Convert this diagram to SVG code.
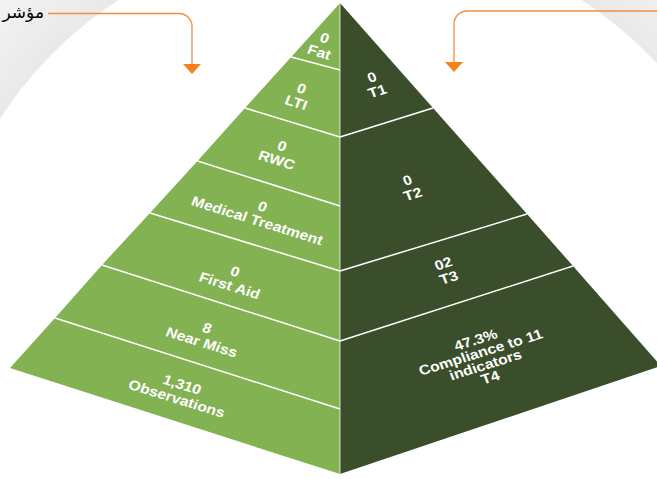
<svg xmlns="http://www.w3.org/2000/svg" width="657" height="479" viewBox="0 0 657 479">
<defs>
<radialGradient id="bg" gradientUnits="userSpaceOnUse" cx="350" cy="320" r="520" gradientTransform="translate(350 320) scale(1.055 1) translate(-350 -320)">
<stop offset="0" stop-color="#ffffff"/>
<stop offset="0.745" stop-color="#ffffff"/>
<stop offset="0.747" stop-color="#e9e9e9"/>
<stop offset="1" stop-color="#fbfbfb"/>
</radialGradient>
<style>
.lf{fill:#83B253}
.rf{fill:#3A4E2B}
.div{stroke:#ffffff;stroke-width:1.5;fill:none}
.lbl{font-family:"Liberation Sans",Arial,sans-serif;font-weight:bold;font-size:13px;fill:#ffffff;text-anchor:middle}
.conn{stroke:#F28D40;stroke-width:1.3;fill:none}
.head{fill:#F5821F}
</style>
</defs>
<rect x="0" y="0" width="657" height="479" fill="url(#bg)"/>

<g id="tier-fat">
<polygon class="lf" points="340,3 291.2,57 340,70"/>
<g transform="matrix(1.15 0.357 -0.39 1 322 45)"><text class="lbl" y="-2.4">0</text><text class="lbl" y="11.6">Fat</text></g>
</g>
<g id="tier-lti">
<polygon class="lf" points="291.2,57 245,108 340,137 340,70"/>
<g transform="matrix(1.15 0.357 -0.39 1 299 95.5)"><text class="lbl" y="-2.4">0</text><text class="lbl" y="11.6">LTI</text></g>
</g>
<g id="tier-rwc">
<polygon class="lf" points="245,108 197.5,161 340,206 340,137"/>
<g transform="matrix(1.15 0.357 -0.39 1 279.5 153)"><text class="lbl" y="-2.4">0</text><text class="lbl" y="11.6">RWC</text></g>
</g>
<g id="tier-medical">
<polygon class="lf" points="197.5,161 150,213 340,271 340,206"/>
<g transform="matrix(1.15 0.357 -0.39 1 260 213.5)"><text class="lbl" y="-2.4">0</text><text class="lbl" y="11.6">Medical Treatment</text></g>
</g>
<g id="tier-firstaid">
<polygon class="lf" points="150,213 102,265 340,341 340,271"/>
<g transform="matrix(1.15 0.357 -0.39 1 232.5 278.5)"><text class="lbl" y="-2.4">0</text><text class="lbl" y="11.6">First Aid</text></g>
</g>
<g id="tier-nearmiss">
<polygon class="lf" points="102,265 55,318 340,409 340,341"/>
<g transform="matrix(1.15 0.357 -0.39 1 204.5 335)"><text class="lbl" y="-2.4">8</text><text class="lbl" y="11.6">Near Miss</text></g>
</g>
<g id="tier-observations">
<polygon class="lf" points="55,318 10,368 340,474 340,409"/>
<g transform="matrix(1.15 0.357 -0.39 1 179.5 391.5)"><text class="lbl" y="-2.4">1,310</text><text class="lbl" y="11.6">Observations</text></g>
</g>

<g id="tier-t1">
<polygon class="rf" points="340,3 433,108 340,137"/>
<g transform="matrix(1.15 -0.357 0.39 1 374.5 84)"><text class="lbl" y="-2.4">0</text><text class="lbl" y="11.6">T1</text></g>
</g>
<g id="tier-t2">
<polygon class="rf" points="340,137 433,108 527,214 340,271"/>
<g transform="matrix(1.15 -0.357 0.39 1 410 187)"><text class="lbl" y="-2.4">0</text><text class="lbl" y="11.6">T2</text></g>
</g>
<g id="tier-t3">
<polygon class="rf" points="340,271 527,214 573,266 340,341"/>
<g transform="matrix(1.15 -0.357 0.39 1 446 270.5)"><text class="lbl" y="-2.4">02</text><text class="lbl" y="11.6">T3</text></g>
</g>
<g id="tier-t4">
<polygon class="rf" points="340,341 573,266 661,366 340,474"/>
<g transform="matrix(1.15 -0.357 0.39 1 483 358.5)"><text class="lbl" y="-14.2">47.3%</text><text class="lbl" y="-1.7">Compliance to 11</text><text class="lbl" y="10.8">indicators</text><text class="lbl" y="23.3">T4</text></g>
</g>

<g id="dividers">
<line class="div" x1="340" y1="3" x2="340" y2="474" stroke-width="1" opacity="0.5"/>
<line class="div" x1="291.2" y1="57" x2="340" y2="70"/>
<line class="div" x1="245" y1="108" x2="340" y2="137"/>
<line class="div" x1="197.5" y1="161" x2="340" y2="206"/>
<line class="div" x1="150" y1="213" x2="340" y2="271"/>
<line class="div" x1="102" y1="265" x2="340" y2="341"/>
<line class="div" x1="55" y1="318" x2="340" y2="409"/>
<line class="div" x1="340" y1="137" x2="433" y2="108"/>
<line class="div" x1="340" y1="271" x2="527" y2="214"/>
<line class="div" x1="340" y1="341" x2="573" y2="266"/>
</g>

<g id="label-left">
<text x="44" y="18" font-family="'DejaVu Sans','Noto Sans',sans-serif" font-size="17" fill="#000000" text-anchor="end">مؤشر</text>
</g>

<g id="connectors">
<path class="conn" d="M48,13.5 H179 A13,13 0 0 1 192,26.5 V64"/>
<polygon class="head" points="183,64 201,64 192,74"/>
<path class="conn" d="M657,11 H467 A13,13 0 0 0 454,24 V62"/>
<polygon class="head" points="445,62 463,62 454,72"/>
</g>
</svg>
